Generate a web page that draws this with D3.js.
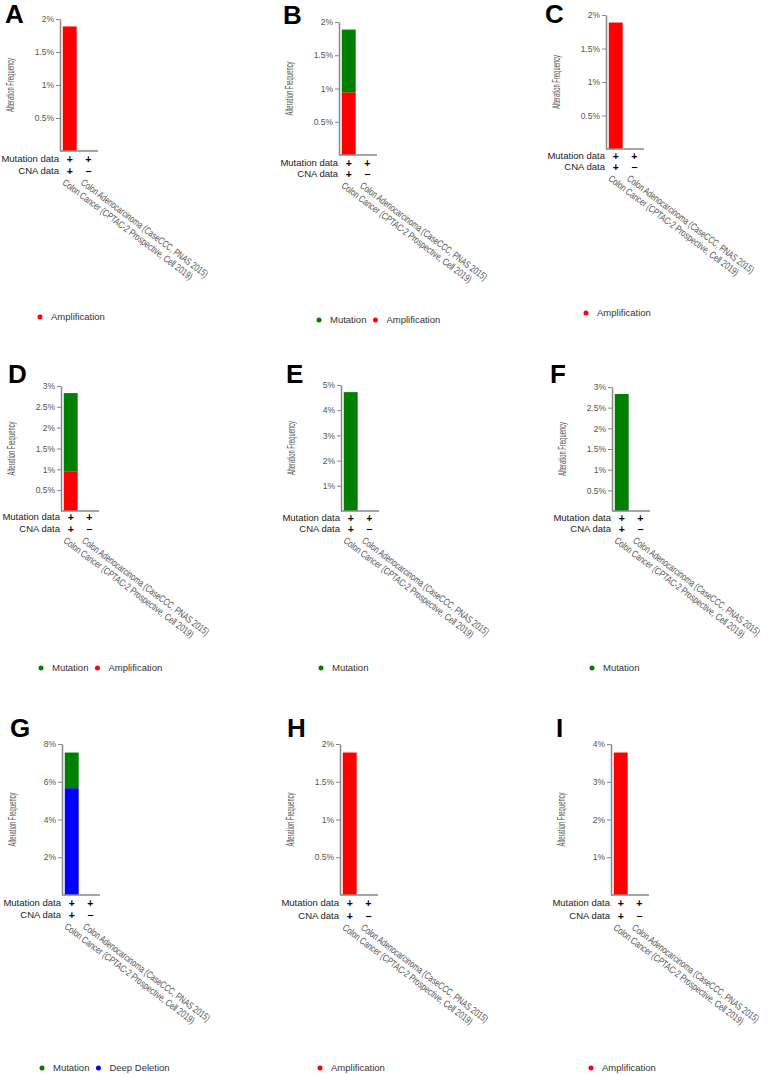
<!DOCTYPE html>
<html><head><meta charset="utf-8">
<script src="https://cdn.jsdelivr.net/npm/d3@7"></script>
<style>
body{margin:0;background:#fff}
svg{display:block;font-family:"Liberation Sans",Arial,sans-serif}
</style>
</head><body>
<div id="chart"></div>
<script>
var width = 768, height = 1075;

var panelLetters = ["A","B","C","D","E","F","G","H","I"];
var studies = ["Colon Cancer (CPTAC-2 Prospective, Cell 2019)", "Colon Adenocarcinoma (CaseCCC, PNAS 2015)"];
var mutationProfiled = ["+", "+"];
var cnaProfiled = ["+", "\u2212"];

// alteration frequency (%) per panel, [study 1, study 2]
var mutationFreq = [[0,0],[0.943,0],[0,0],[1.887,0],[4.717,0],[2.830,0],[1.887,0],[0,0],[0,0]];
var amplificationFreq = [[1.887,0],[0.943,0],[1.887,0],[0.943,0],[0,0],[0,0],[0,0],[1.887,0],[3.774,0]];
var deepDeletionFreq = [[0,0],[0,0],[0,0],[0,0],[0,0],[0,0],[5.660,0],[0,0],[0,0]];

var yMax = [2,2,2,3,5,3,8,2,4];
var yTicks = [
  [0.5,1,1.5,2],[0.5,1,1.5,2],[0.5,1,1.5,2],
  [0.5,1,1.5,2,2.5,3],[1,2,3,4,5],[0.5,1,1.5,2,2.5,3],
  [2,4,6,8],[0.5,1,1.5,2],[1,2,3,4]
];

var seriesNames = ["Mutation","Amplification","Deep Deletion"];
var seriesColors = {"Mutation":"#008000","Amplification":"#ff0000","Deep Deletion":"#0000ff"};
var stackKeys = ["Amplification","Deep Deletion","Mutation"];

// where each small chart sits on the page
var layout = [
  {x:60,  top:19,  base:151, mut:159, cna:171, legend:317,  lx:5,   ly:23},
  {x:339, top:22,  base:155, mut:163, cna:174, legend:320,  lx:283, ly:24},
  {x:606, top:15,  base:149, mut:156, cna:167, legend:313,  lx:545, ly:23},
  {x:61,  top:386, base:511, mut:517, cna:529, legend:668,  lx:8,   ly:383},
  {x:341, top:385, base:511, mut:518, cna:529, legend:668,  lx:286, ly:383},
  {x:612, top:387, base:511, mut:518, cna:529, legend:668,  lx:550, ly:383},
  {x:62,  top:744, base:895, mut:903, cna:915, legend:1068, lx:10,  ly:737},
  {x:340, top:744, base:895, mut:903, cna:916, legend:1068, lx:287, ly:737},
  {x:611, top:744, base:895, mut:903, cna:916, legend:1068, lx:556, ly:737}
];

var svg = d3.select("#chart").append("svg")
  .attr("width", width)
  .attr("height", height);

panelLetters.forEach(function(letter, i){
  var L = layout[i];
  var g = svg.append("g");

  var rows = studies.map(function(s, j){
    return {
      study: s,
      "Mutation": mutationFreq[i][j],
      "Amplification": amplificationFreq[i][j],
      "Deep Deletion": deepDeletionFreq[i][j]
    };
  });

  var y = d3.scaleLinear().domain([0, yMax[i]]).range([L.base, L.top]);
  var x = d3.scaleBand().domain(studies)
    .range([L.x, L.x + 38])
    .paddingInner(0.25).paddingOuter(0.15);

  // panel letter
  g.append("text")
    .attr("x", L.lx).attr("y", L.ly)
    .attr("font-size", "26px").attr("font-weight", "bold")
    .attr("fill", "#000")
    .text(letter);

  // bars
  var stacked = d3.stack().keys(stackKeys)(rows);
  g.selectAll("g.layer")
    .data(stacked)
    .enter().append("g")
    .attr("fill", function(d){ return seriesColors[d.key]; })
    .selectAll("rect")
    .data(function(d){ return d.filter(function(p){ return p[1] - p[0] > 0; }); })
    .enter().append("rect")
    .attr("x", function(p){ return x(p.data.study); })
    .attr("width", x.bandwidth())
    .attr("y", function(p){ return y(p[1]); })
    .attr("height", function(p){ return y(p[0]) - y(p[1]); });

  // y axis
  var ax = g.append("g")
    .attr("transform", "translate(" + L.x + ",0)")
    .call(d3.axisLeft(y).tickValues(yTicks[i]).tickSize(4).tickSizeOuter(0).tickPadding(2)
      .tickFormat(function(d){ return d + "%"; }));
  ax.select(".domain").attr("stroke", "#888").attr("stroke-width", 1.5);
  ax.selectAll(".tick line").attr("stroke", "#888");
  ax.selectAll(".tick text").attr("fill", "#555").attr("font-size", "8.5px")
    .attr("font-family", "\"Liberation Sans\",Arial,sans-serif");

  // x baseline
  g.append("line")
    .attr("x1", L.x).attr("x2", L.x + 38)
    .attr("y1", L.base).attr("y2", L.base)
    .attr("stroke", "#888").attr("stroke-width", 1.5);

  // y title
  g.append("text")
    .attr("transform", "translate(" + (L.x - 46) + "," + ((L.top + L.base) / 2) + ") rotate(-90)")
    .attr("text-anchor", "middle")
    .attr("font-size", "10px").attr("fill", "#555")
    .attr("textLength", 54).attr("lengthAdjust", "spacingAndGlyphs")
    .text("Alteration Frequency");

  // profiled rows
  [["Mutation data", L.mut, mutationProfiled], ["CNA data", L.cna, cnaProfiled]].forEach(function(r){
    g.append("text")
      .attr("x", L.x - 1).attr("y", r[1]).attr("dy", "0.35em")
      .attr("text-anchor", "end").attr("font-size", "9.5px").attr("fill", "#222")
      .text(r[0]);
    g.selectAll(null)
      .data(studies)
      .enter().append("text")
      .attr("x", function(s){ return x(s) + x.bandwidth() / 2; })
      .attr("y", r[1]).attr("dy", "0.35em")
      .attr("text-anchor", "middle").attr("font-size", "10.5px").attr("font-weight", "bold")
      .attr("fill", "#000")
      .text(function(s, j){ return r[2][j]; });
  });

  // rotated study names
  g.selectAll(null)
    .data(studies)
    .enter().append("text")
    .attr("transform", function(s){
      return "translate(" + (x(s) + x.bandwidth() / 2 - 8) + "," + (L.cna + 13) + ") rotate(37)";
    })
    .attr("font-size", "10px").attr("fill", "#555")
    .attr("textLength", function(s, j){ return j === 0 ? 160 : 156; })
    .attr("lengthAdjust", "spacingAndGlyphs")
    .text(function(s){ return s; });

  // legend
  var present = seriesNames.filter(function(k){
    return d3.sum(rows, function(r){ return r[k]; }) > 0;
  });
  var lx = L.x - 20;
  present.forEach(function(k){
    g.append("circle")
      .attr("cx", lx).attr("cy", L.legend).attr("r", 2.5)
      .attr("fill", seriesColors[k]);
    var t = g.append("text")
      .attr("x", lx + 11).attr("y", L.legend).attr("dy", "0.35em")
      .attr("font-size", "9.5px").attr("fill", "#333")
      .text(k);
    lx += 11 + t.node().getComputedTextLength() + 9;
  });
});
</script>
</body></html>
